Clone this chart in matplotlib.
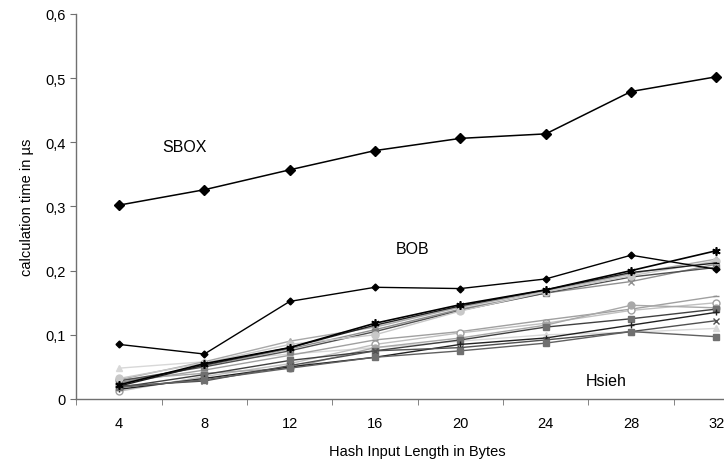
import matplotlib
matplotlib.use("Agg")
import matplotlib.pyplot as plt
from matplotlib.ticker import FuncFormatter

plt.rcParams['font.family'] = ['Liberation Sans', 'DejaVu Sans']

lengths = [4, 8, 12, 16, 20, 24, 28, 32]

sbox = [0.302, 0.326, 0.357, 0.387, 0.406, 0.413, 0.479, 0.502]
bob = [0.085, 0.070, 0.152, 0.174, 0.172, 0.187, 0.224, 0.202]

upper_a = [0.022, 0.055, 0.080, 0.118, 0.147, 0.170, 0.200, 0.231]
upper_b = [0.030, 0.058, 0.090, 0.112, 0.143, 0.168, 0.195, 0.218]
upper_c = [0.025, 0.052, 0.078, 0.108, 0.140, 0.165, 0.183, 0.210]
upper_d = [0.028, 0.050, 0.075, 0.105, 0.138, 0.165, 0.190, 0.205]
upper_e = [0.032, 0.056, 0.085, 0.100, 0.137, 0.167, 0.192, 0.215]
upper_f = [0.020, 0.053, 0.080, 0.115, 0.145, 0.170, 0.197, 0.212]

lower_g = [0.048, 0.058, 0.070, 0.080, 0.090, 0.100, 0.104, 0.110]
lower_h = [0.025, 0.045, 0.068, 0.092, 0.105, 0.123, 0.140, 0.160]
lower_i = [0.012, 0.035, 0.055, 0.085, 0.103, 0.118, 0.138, 0.150]
lower_j = [0.030, 0.040, 0.048, 0.080, 0.095, 0.115, 0.146, 0.142]
lower_k = [0.018, 0.038, 0.060, 0.075, 0.092, 0.112, 0.125, 0.140]
lower_l = [0.015, 0.032, 0.050, 0.065, 0.085, 0.095, 0.115, 0.135]
lower_m = [0.020, 0.028, 0.052, 0.075, 0.080, 0.092, 0.105, 0.122]
lower_n = [0.018, 0.030, 0.048, 0.065, 0.075, 0.087, 0.105, 0.097]

fig = plt.figure(figsize=(7.24, 4.64), dpi=100)
ax = fig.add_axes([0.1055, 0.138, 0.943, 0.830])

xs = list(range(len(lengths)))

styles = [
    (lower_g, '#d8d8d8', '^', '#d8d8d8', '#d8d8d8'),
    (lower_h, '#a0a0a0', '_', '#909090', '#909090'),
    (lower_i, '#c0c0c0', 'o', 'white', '#a0a0a0'),
    (lower_j, '#a8a8a8', 'o', '#a8a8a8', '#a8a8a8'),
    (lower_k, '#404040', 's', '#707070', '#707070'),
    (lower_l, '#202020', '+', '#202020', '#202020'),
    (lower_m, '#505050', 'x', '#505050', '#505050'),
    (lower_n, '#606060', 's', '#707070', '#707070'),
    (upper_b, '#a8a8a8', '^', '#a8a8a8', '#a8a8a8'),
    (upper_c, '#909090', 'x', '#909090', '#909090'),
    (upper_d, '#505050', 's', '#808080', '#808080'),
    (upper_e, '#c8c8c8', 'o', '#c8c8c8', '#c8c8c8'),
    (upper_f, '#202020', '_', '#000000', '#000000'),
]
for ys, lc, mk, mfc, mec in styles:
    ax.plot(xs, ys, color=lc, lw=1.0, marker=mk, ms=5, mfc=mfc, mec=mec, mew=1.0)

ax.plot(xs, upper_a, color='black', lw=1.2, marker=(6, 2, 0), ms=6, mec='black', mew=1.2)
ax.plot(xs, bob, color='black', lw=1.0, marker='D', ms=3.5, mfc='black', mec='black')
ax.plot(xs, sbox, color='black', lw=1.1, marker='D', ms=5, mfc='black', mec='black')

ax.text(0.77, 0.394, 'SBOX', ha='center', va='center', fontsize=11.5)
ax.text(3.44, 0.234, 'BOB', ha='center', va='center', fontsize=11.5)
ax.text(5.71, 0.028, 'Hsieh', ha='center', va='center', fontsize=11.5)

ax.set_xlim(-0.5, 7.5)
ax.set_ylim(0, 0.6)
ax.set_xticks(xs)
ax.set_xticklabels([str(v) for v in lengths])
ax.set_xticks([i - 0.5 for i in range(len(lengths) + 1)], minor=True)
ax.set_yticks([0, 0.1, 0.2, 0.3, 0.4, 0.5, 0.6])
ax.yaxis.set_major_formatter(FuncFormatter(lambda v, p: '0' if v == 0 else ('%.1f' % v).replace('.', ',')))
ax.tick_params(axis='x', which='major', length=0, pad=12, labelsize=10.5)
ax.tick_params(axis='x', which='minor', length=4, direction='out', color='#707070')
ax.tick_params(axis='y', which='major', length=4, direction='out', color='#707070', labelsize=10.5, pad=4)

for s in ['top', 'right']:
    ax.spines[s].set_visible(False)
for s in ['left', 'bottom']:
    ax.spines[s].set_color('#707070')
    ax.spines[s].set_linewidth(1.0)

ax.set_xlabel('Hash Input Length in Bytes', fontsize=10.5, labelpad=10)
ax.set_ylabel('calculation time in µs', fontsize=10.5, labelpad=8)

fig.savefig('out.png', dpi=100)
